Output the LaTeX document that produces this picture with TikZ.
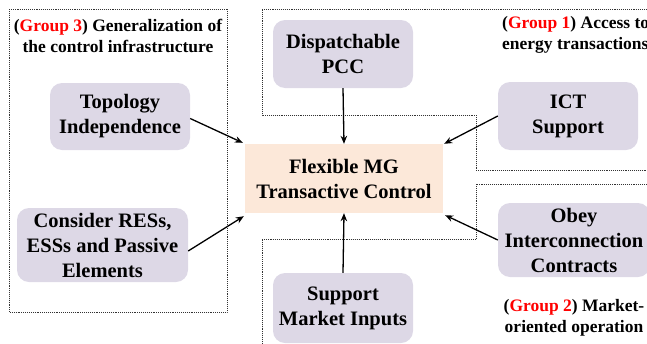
\documentclass[tikz,border=0pt]{standalone}
\usepackage{fontspec}
\setmainfont{Liberation Serif}
\usetikzlibrary{arrows.meta}
\definecolor{lav}{HTML}{DDD8E6}
\definecolor{peach}{HTML}{FCE8D9}
\begin{document}
\begin{tikzpicture}[x=1pt,y=-1pt,
  cell/.style={rounded corners=12pt, fill=lav, draw=none, align=center,
    inner sep=0pt, font=\bfseries\fontsize{20.5}{25}\selectfont},
  core/.style={fill=peach, draw=none, align=center, inner sep=0pt,
    font=\bfseries\fontsize{20.5}{25}\selectfont},
  grouplabel/.style={align=center, inner sep=0pt,
    font=\bfseries\fontsize{17.5}{21}\selectfont},
  border/.style={densely dotted, line width=0.9pt, black!80},
  link/.style={line width=1.3pt, -{Stealth[length=8pt,width=6.5pt]}}]
\useasboundingbox (0,0) rectangle (647,343);
\clip (0,0) rectangle (647,343);

% group frames
\coordinate (g3a) at (9,9);
\coordinate (g3b) at (227,312);
\draw[border] (g3a) rectangle (g3b);
\draw[border] (660,9) -- (262,9) -- (262,115) -- (476,115) -- (476,170) -- (660,170);
\draw[border] (660,184) -- (476,184) -- (476,239) -- (262,239) -- (262,350);

% group captions
\node[grouplabel] (lab3) at (118,36) {(\textcolor{red}{Group 3}) Generalization of\\the control infrastructure};
\node[grouplabel, anchor=west, align=left] (lab1) at (502,35) {(\textcolor{red}{Group 1}) Access to\\energy transactions};
\node[grouplabel] (lab2) at (574,318) {(\textcolor{red}{Group 2}) Market-\\oriented operation};

% central block
\node[core, minimum width=198pt, minimum height=69pt] (mg) at (344,178.5) {Flexible MG\\Transactive Control};

% feature blocks
\node[cell, minimum width=140pt, minimum height=68pt] (pcc) at (343,54) {Dispatchable\\PCC};
\node[cell, minimum width=140pt, minimum height=68pt] (ict) at (568,116) {ICT\\Support};
\node[cell, minimum width=140pt, minimum height=67pt] (topo) at (120,116.5) {Topology\\Independence};
\node[cell, minimum width=171pt, minimum height=74pt] (res) at (102.5,245) {Consider RESs,\\ESSs and Passive\\Elements};
\node[cell, minimum width=152pt, minimum height=74pt] (obey) at (574,240) {Obey\\Interconnection\\Contracts};
\node[cell, minimum width=140pt, minimum height=70pt] (mkt) at (343,308) {Support\\Market Inputs};

% connectors
\draw[link] (pcc.south) -- (mg.north);
\draw[link] (mkt.north) -- (mg.south);
\draw[link] (topo.east) ++(0,2) -- ([xshift=-2pt,yshift=1pt]mg.north west);
\draw[link] ([yshift=-6pt]res.east) -- ([xshift=-1pt,yshift=-3pt]mg.south west);
\draw[link] (ict.west) -- ([xshift=1pt]mg.north east);
\draw[link] (obey.west) -- ([xshift=2pt,yshift=-2pt]mg.south east);
\end{tikzpicture}
\end{document}
